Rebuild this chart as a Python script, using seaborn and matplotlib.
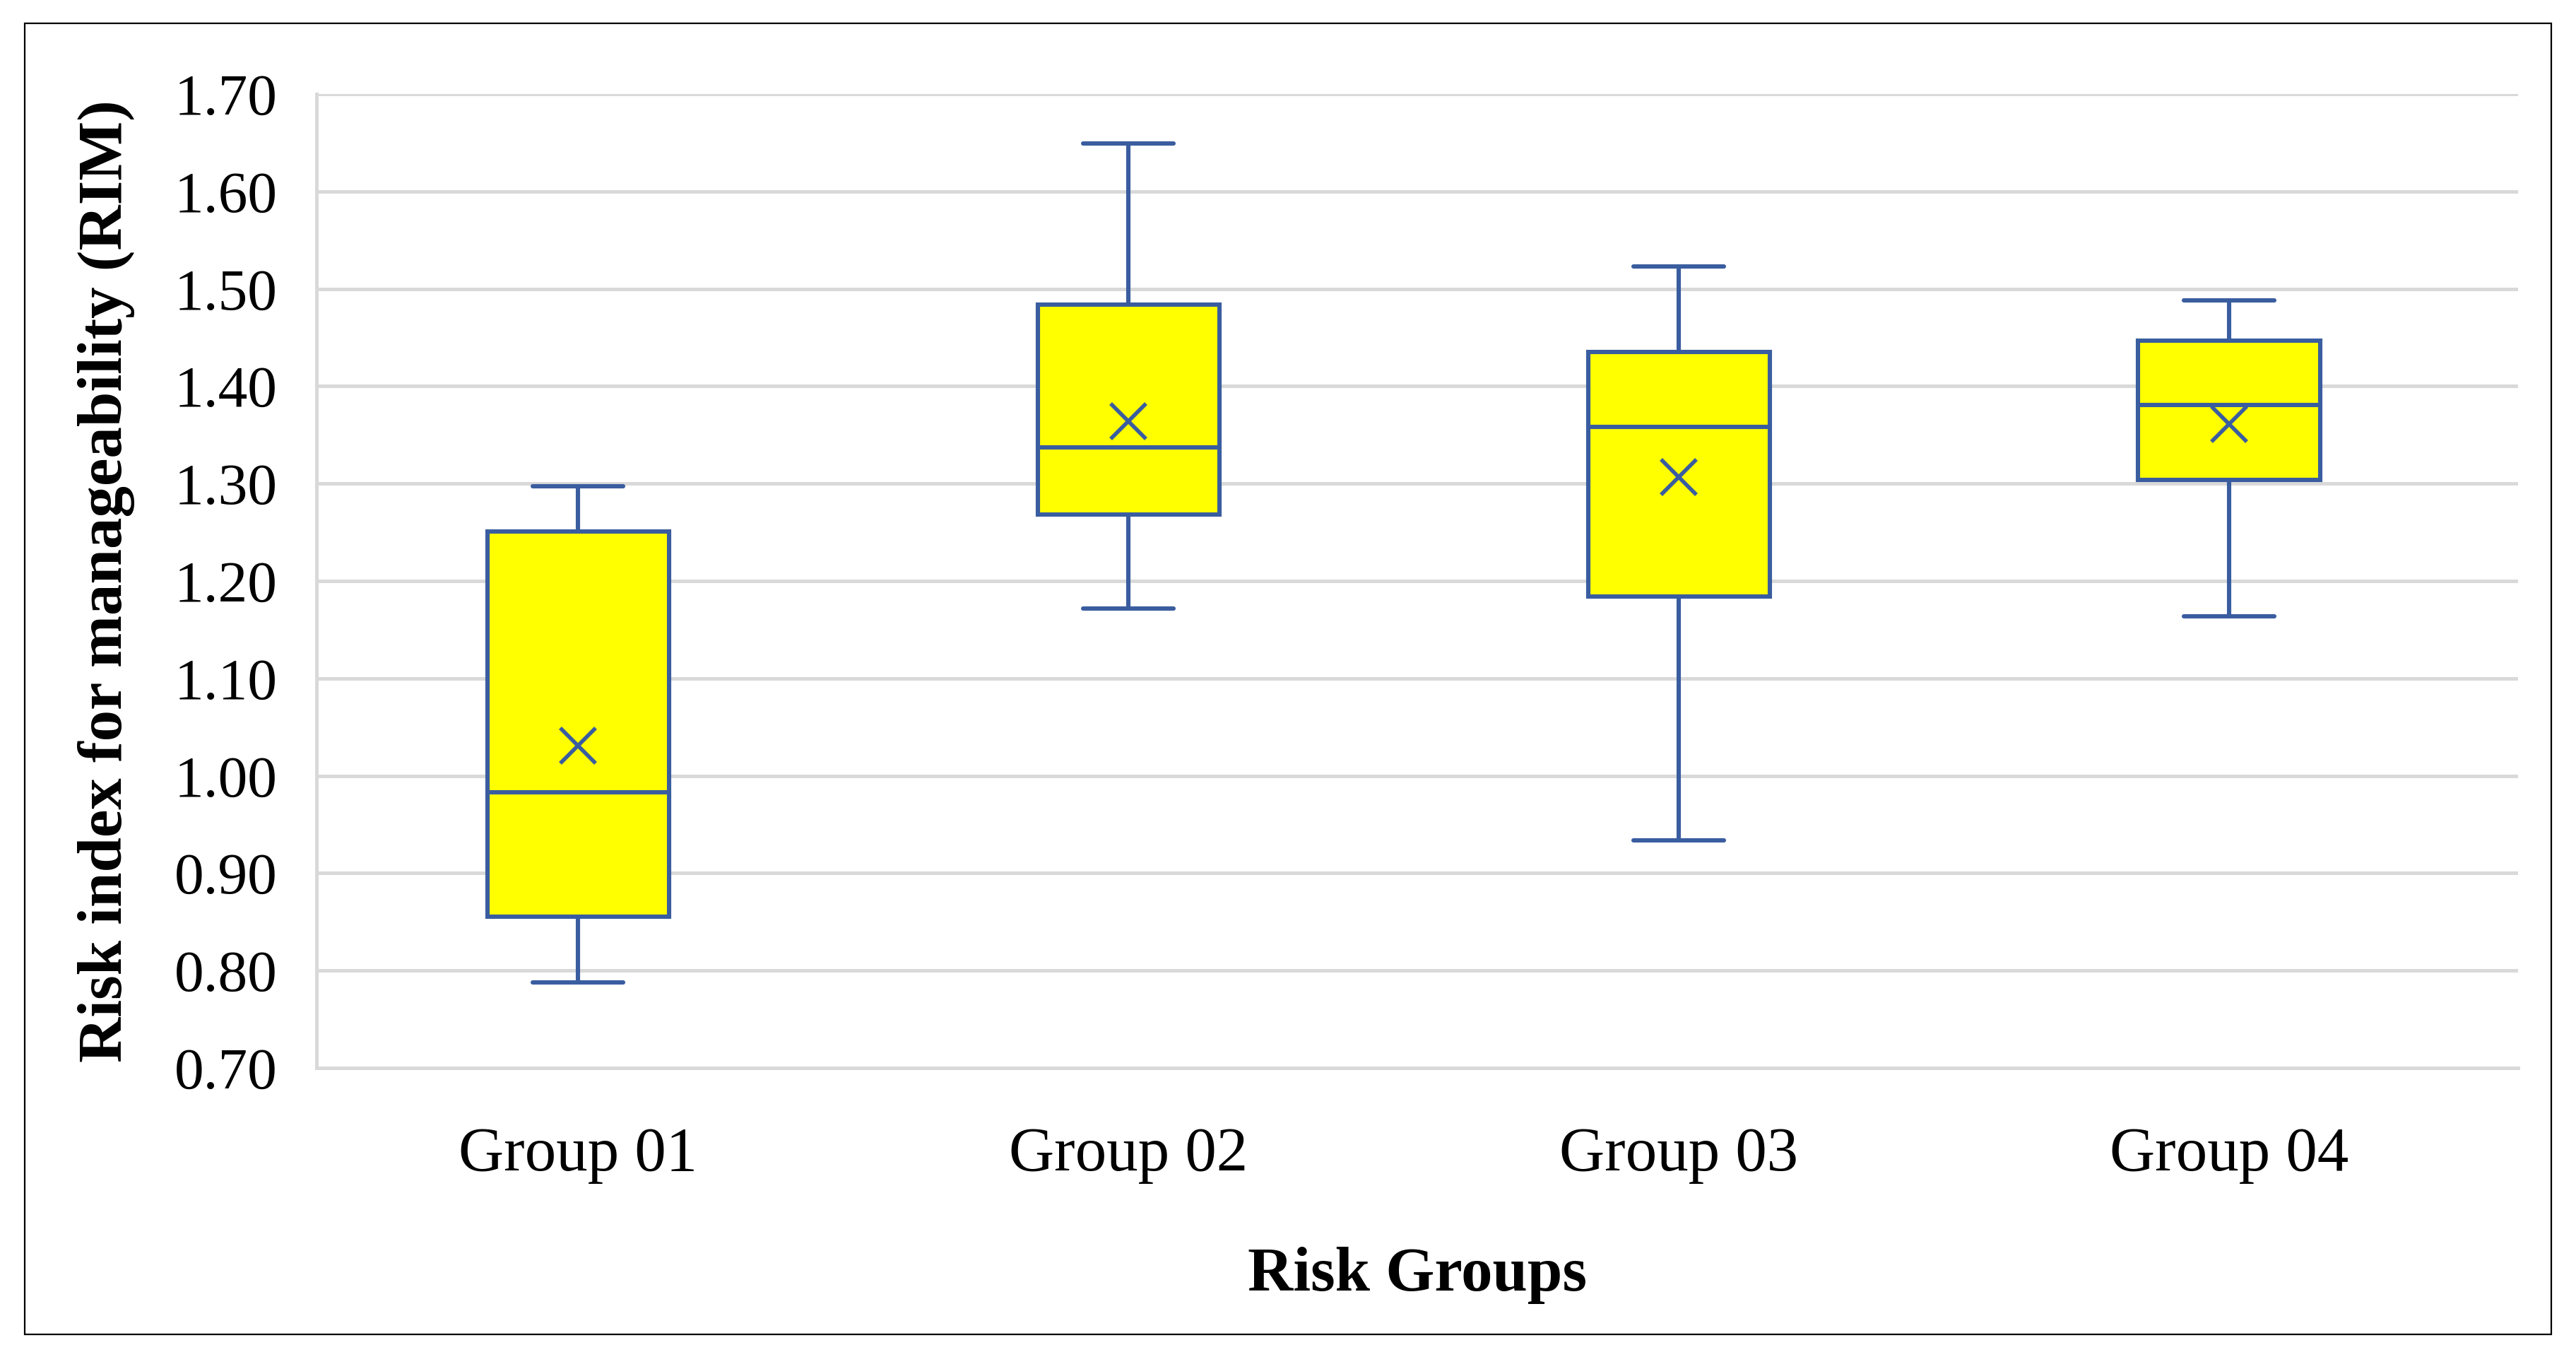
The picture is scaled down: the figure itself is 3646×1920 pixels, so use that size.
import matplotlib

matplotlib.use('Agg')

import matplotlib.pyplot as plt
import matplotlib.patches as mpatches
import matplotlib.ticker as mticker
import seaborn as sns
import pandas as pd

# five-number summary per group
groups = ['Group 01', 'Group 02', 'Group 03', 'Group 04']

whisker_low = [0.788, 1.172, 0.934, 1.164]
q1 = [0.855, 1.268, 1.184, 1.304]
median = [0.983, 1.337, 1.358, 1.381]
q3 = [1.251, 1.484, 1.435, 1.447]
whisker_high = [1.297, 1.649, 1.523, 1.488]

means = [1.031, 1.364, 1.307, 1.361]

y_ticks = [0.70, 0.80, 0.90, 1.00, 1.10, 1.20, 1.30, 1.40, 1.50, 1.60, 1.70]

LINE = '#3A5D9F'
FILL = '#FFFF00'
GRID = '#D9D9D9'

rows = []

for i, g in enumerate(groups):

    for v in (whisker_low[i], q1[i], median[i], q3[i], whisker_high[i]):

        rows.append({'group': g, 'value': v})

df = pd.DataFrame(rows)

sns.set_style('white')

plt.rcParams['font.family'] = ['Liberation Serif', 'DejaVu Serif']

fig = plt.figure(
    figsize=(18.23, 9.6),
    dpi=200,
)

ax = fig.add_axes([0.1229, 0.2130, 0.8546, 0.7177])

line_kw = {'color': LINE, 'linewidth': 2.2}

sns.boxplot(
    data=df,
    x='group',
    y='value',
    order=groups,
    whis=(0, 100),
    width=0.33,
    ax=ax,
    boxprops={'facecolor': FILL, 'edgecolor': LINE, 'linewidth': 2.2},
    medianprops=line_kw,
    whiskerprops=line_kw,
    capprops=line_kw,
    showfliers=False,
)

sns.pointplot(
    x=groups,
    y=means,
    order=groups,
    linestyle='none',
    marker='x',
    markersize=18,
    markeredgewidth=2.0,
    color=LINE,
    errorbar=None,
    ax=ax,
)

ax.set_xlim(-0.475, 3.525)
ax.set_ylim(0.70, 1.70)

ax.set_yticks(y_ticks)
ax.yaxis.set_major_formatter(mticker.FormatStrFormatter('%.2f'))

ax.set_axisbelow(True)
ax.yaxis.grid(True, color=GRID, linewidth=1.8)
ax.xaxis.grid(False)

for side in ('top', 'right'):
    ax.spines[side].set_visible(False)

for side in ('left', 'bottom'):
    ax.spines[side].set_color(GRID)
    ax.spines[side].set_linewidth(1.8)

ax.tick_params(axis='both', length=0, colors='black')
ax.tick_params(axis='y', pad=20, labelsize=30)
ax.tick_params(axis='x', pad=30, labelsize=32)

ax.set_xlabel(
    'Risk Groups',
    fontsize=32,
    fontweight='bold',
    color='black',
    labelpad=32,
)

ax.set_ylabel(
    'Risk index for manageability (RIM)',
    fontsize=32,
    fontweight='bold',
    color='black',
    labelpad=20,
)

border = mpatches.Rectangle(
    (35 / 3646, 1 - 1888 / 1920),
    (3611 - 35) / 3646,
    (1888 - 33) / 1920,
    transform=fig.transFigure,
    fill=False,
    edgecolor='black',
    linewidth=0.8,
)

fig.patches.append(border)

fig.savefig('out.png', dpi=200)

plt.close(fig)
